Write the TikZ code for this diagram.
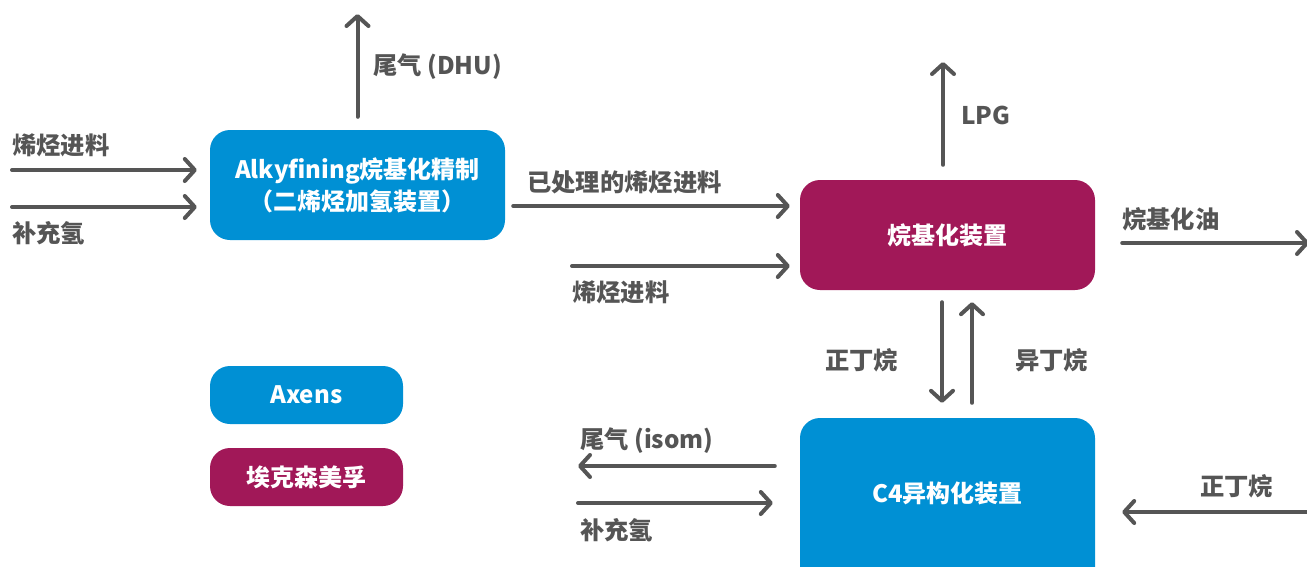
\documentclass[tikz,border=0pt]{standalone}
\usepackage{fontspec}
\setmainfont{Noto Sans CJK SC}
\usetikzlibrary{arrows.meta}
\definecolor{axblue}{HTML}{0090D4}
\definecolor{exmag}{HTML}{A11858}
\definecolor{flowgray}{HTML}{555555}
\tikzset{
  unit/.style={rounded corners=20pt, inner sep=0pt, text=white, font=\fontsize{24}{32}\selectfont\bfseries, align=center},
  bluebox/.style={unit, fill=axblue},
  magbox/.style={unit, fill=exmag},
  flow/.style={draw=flowgray, line width=4pt, line cap=round, line join=round, -{Straight Barb[length=10pt,width=22pt,line cap=round,line join=round]}},
  lbl/.style={text=flowgray, font=\fontsize{24.3}{28}\selectfont\bfseries, inner sep=0pt}
}
\begin{document}
\begin{tikzpicture}[x=1pt,y=-1pt]
\useasboundingbox (0,0) rectangle (1307,566);
\clip (0,0) rectangle (1307,566);
% boxes
\node[bluebox, minimum width=295pt, minimum height=110pt] (A) at (357.5,185) {Alkyfining烷基化精制\\（二烯烃加氢装置）};
\node[magbox, minimum width=295pt, minimum height=110pt] (B) at (947.5,235) {烷基化装置};
\node[bluebox, minimum width=295pt, minimum height=200pt] (C) at (947.5,518) {};
\node[text=white, font=\fontsize{24}{28}\selectfont\bfseries] (Ct) at (947.5,493) {C4异构化装置};
\node[bluebox, minimum width=193pt, minimum height=58pt] (ax) at (306.5,395) {Axens};
\node[magbox, minimum width=193pt, minimum height=58pt] (em) at (306.5,477) {埃克森美孚};
% free ends
\coordinate (in1) at (12,170);
\coordinate (in2) at (12,207);
\coordinate (dhu) at (357.5,14);
\coordinate (tr) at (0,206);
\coordinate (of) at (572,266);
\coordinate (lpg) at (943,62);
\coordinate (oil) at (1309,243);
\coordinate (nb) at (942,0);
\coordinate (ib) at (972,0);
\coordinate (tg) at (578,466);
\coordinate (h2) at (578,503);
\coordinate (nb2) at (1310,512);
% connectors
\draw[flow, shorten >=13pt] (in1) -- (in1 -| A.west);
\draw[flow, shorten >=13pt] (in2) -- (in2 -| A.west);
\draw[flow, shorten <=13pt] (A.north) -- (dhu);
\draw[flow, shorten <=8pt, shorten >=10pt] (A.east |- tr) -- (B.west |- tr);
\draw[flow, shorten >=10pt] (of) -- (of -| B.west);
\draw[flow, shorten <=15pt] (lpg |- B.north) -- (lpg);
\draw[flow, shorten <=27pt] (B.east |- oil) -- (oil);
\draw[flow, shorten <=12pt, shorten >=15pt] (nb |- B.south) -- (nb |- C.north);
\draw[flow, shorten <=15pt, shorten >=12pt] (ib |- C.north) -- (ib |- B.south);
\draw[flow, shorten <=25pt] (C.west |- tg) -- (tg);
\draw[flow, shorten >=27pt] (h2) -- (h2 -| C.west);
\draw[flow, shorten >=27pt] (nb2) -- (nb2 -| C.east);
% labels
\node[lbl, anchor=west] (l1) at (12,145) {烯烃进料};
\node[lbl, anchor=west] (l2) at (12,233) {补充氢};
\node[lbl, anchor=west] (l3) at (373,67) {尾气 (DHU)};
\node[lbl, anchor=west] (l4) at (527,182) {已处理的烯烃进料};
\node[lbl, anchor=west] (l5) at (572,292) {烯烃进料};
\node[lbl, anchor=west] (l6) at (961,115) {LPG};
\node[lbl, anchor=west] (l7) at (1122,219) {烷基化油};
\node[lbl, anchor=west] (l8) at (825,360) {正丁烷};
\node[lbl, anchor=west] (l9) at (1015,360) {异丁烷};
\node[lbl, anchor=west] (l10) at (580,441) {尾气 (isom)};
\node[lbl, anchor=west] (l11) at (580,530) {补充氢};
\node[lbl, anchor=west] (l12) at (1200,486) {正丁烷};
\end{tikzpicture}
\end{document}
